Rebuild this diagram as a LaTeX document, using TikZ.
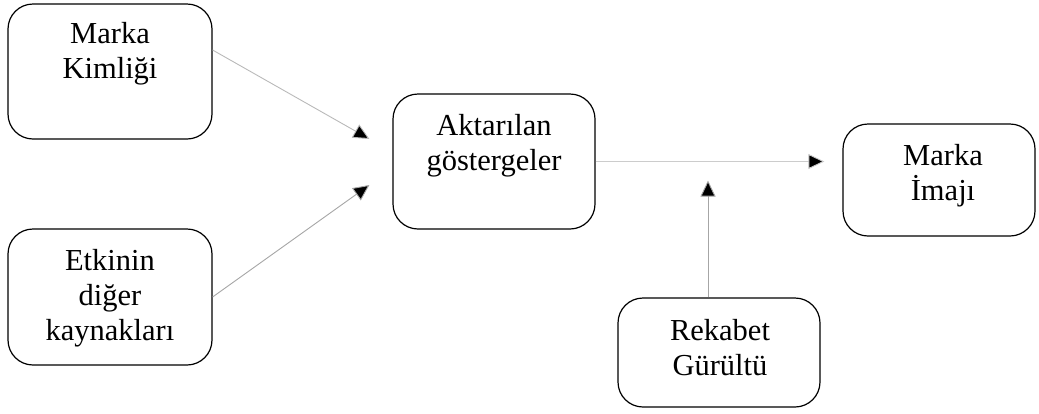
\documentclass[tikz,border=0pt]{standalone}
\usepackage{fontspec}
\setmainfont{Liberation Serif}
\usetikzlibrary{arrows.meta}

% centred block of lines whose baseline is that of the first line
\newcommand{\linesblock}[1]{\begin{tabular}[t]{@{}c@{}}#1\end{tabular}}

\begin{document}
\begin{tikzpicture}[x=1pt,y=-1pt,
  card/.style={draw=black, line width=1.2pt, rounded corners=25pt},
  cardtext/.style={anchor=base, inner sep=0pt, font=\fontsize{30.5}{35}\selectfont},
  link/.style={draw=gray!70, line width=0.9pt,
    -{Triangle[length=16pt,width=15pt,fill=black]}}]
  \useasboundingbox (0,0) rectangle (1039,413);

  % boxes
  \node[card, minimum width=204pt, minimum height=135pt] (kim) at (110,71.5) {};
  \node[card, minimum width=204pt, minimum height=136pt] (kay) at (110,297) {};
  \node[card, minimum width=202pt, minimum height=135pt] (akt) at (494,161.5) {};
  \node[card, minimum width=192pt, minimum height=112pt] (ima) at (939,180) {};
  \node[card, minimum width=202pt, minimum height=109pt] (rek) at (719,352.5) {};

  % labels
  \node[cardtext] (kimt) at (110,43) {\linesblock{Marka\\Kimliği}};
  \node[cardtext] (kayt) at (110,270) {\linesblock{Etkinin\\diğer\\kaynakları}};
  \node[cardtext] (aktt) at (494,135) {\linesblock{Aktarılan\\göstergeler}};
  \node[cardtext] (imat) at (943,165) {\linesblock{Marka\\İmajı}};
  \node[cardtext] (rekt) at (720,340) {\linesblock{Rekabet\\Gürültü}};

  % connectors
  \draw[link, draw=gray!55] ([yshift=21.5pt]kim.east) -- ([xshift=-23pt,yshift=22.5pt]akt.west);
  \draw[link] (kay.east) -- ([xshift=-23pt,yshift=-23.5pt]akt.west);
  \draw[link, draw=gray!40] (akt.east) -- ([xshift=-18pt]akt.east -| ima.west);
  \draw[link] ([xshift=-11pt]rek.north) -- ([xshift=-11pt,yshift=-19pt]rek.north |- akt.east);
\end{tikzpicture}
\end{document}
